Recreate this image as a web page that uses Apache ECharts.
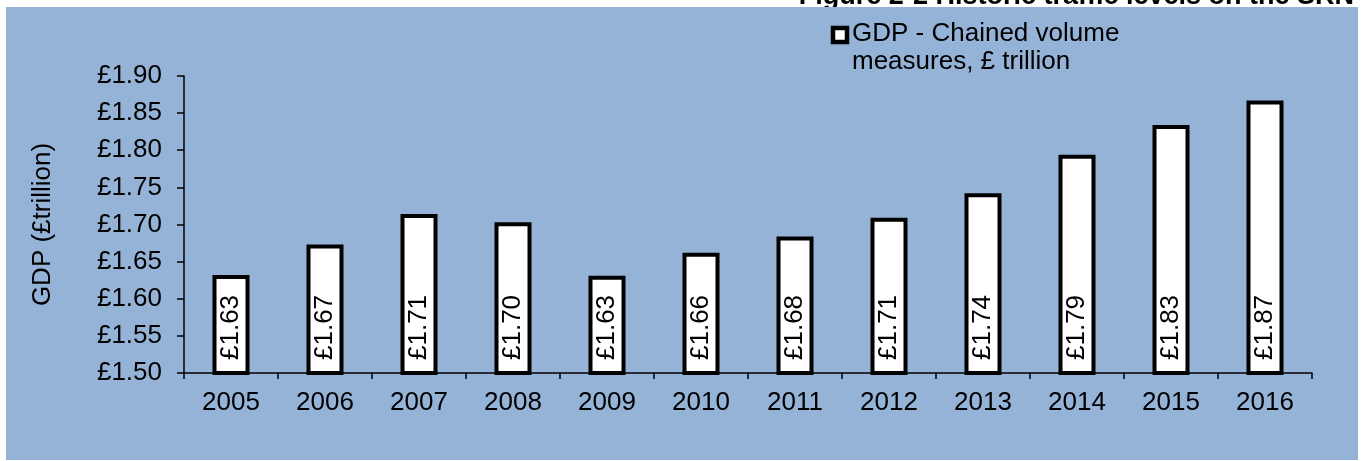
<!DOCTYPE html>
<html>
<head>
<meta charset="utf-8">
<title>GDP chained volume measures</title>
<script src="https://cdn.jsdelivr.net/npm/echarts@6/dist/echarts.min.js"></script>
<style>
  html, body { margin: 0; padding: 0; background: #ffffff; }
  #chart { width: 1363px; height: 461px; }
</style>
</head>
<body>
<div id="chart"></div>
<script>
var years = ['2005', '2006', '2007', '2008', '2009', '2010', '2011', '2012', '2013', '2014', '2015', '2016'];
var gdp = [1.632, 1.673, 1.714, 1.703, 1.631, 1.662, 1.684, 1.709, 1.742, 1.794, 1.834, 1.867];
var seriesName = 'GDP - Chained volume\nmeasures, £ trillion';
var axisName = 'GDP (£trillion)';
var titleText = 'Figure 2-2 Historic traffic levels on the SRN';

var font = 'Liberation Sans, Arial, sans-serif';
var fontSize = 26;

var myChart = echarts.init(document.getElementById('chart'));

var option = {
    animation: false,
    backgroundColor: '#ffffff',
    graphic: [
        {
            // chart title, mostly hidden behind the plot area
            type: 'text',
            z: -20,
            style: {
                x: 1354, y: -3,
                text: titleText,
                align: 'right',
                verticalAlign: 'middle',
                font: 'bold 27px ' + font,
                fill: '#000000'
            }
        },
        {
            type: 'rect',
            z: -10,
            shape: { x: 6, y: 7, width: 1352, height: 453 },
            style: { fill: '#95B3D7' }
        },
        {
            // legend key
            type: 'rect',
            z: 10,
            shape: { x: 833, y: 28, width: 14, height: 14 },
            style: { fill: '#ffffff', stroke: '#000000', lineWidth: 4.5 }
        },
        {
            type: 'text',
            z: 10,
            style: {
                x: 852, y: 20,
                text: seriesName,
                verticalAlign: 'top',
                lineHeight: 28,
                font: fontSize + 'px ' + font,
                fill: '#000000'
            }
        }
    ],
    grid: {
        left: 184,
        right: 51,
        top: 76,
        bottom: 88
    },
    xAxis: {
        type: 'category',
        data: years,
        axisLine: { lineStyle: { color: '#000000', width: 1.5 } },
        axisTick: { show: true, length: 6, lineStyle: { color: '#000000', width: 1.5 } },
        axisLabel: {
            margin: 17,
            color: '#000000',
            fontSize: fontSize,
            fontFamily: font
        }
    },
    yAxis: {
        type: 'value',
        min: 1.5,
        max: 1.9,
        interval: 0.05,
        name: axisName,
        nameLocation: 'middle',
        nameRotate: 90,
        nameGap: 128,
        nameTextStyle: { color: '#000000', fontSize: fontSize, fontFamily: font },
        axisLine: { show: true, lineStyle: { color: '#000000', width: 1.5 } },
        axisTick: { show: true, length: 7, lineStyle: { color: '#000000', width: 1.5 } },
        splitLine: { show: false },
        axisLabel: {
            margin: 22,
            color: '#000000',
            fontSize: fontSize,
            fontFamily: font,
            formatter: function (v) { return '£' + v.toFixed(2); }
        }
    },
    series: [
        {
            type: 'bar',
            name: seriesName,
            data: gdp,
            barWidth: 37,
            itemStyle: {
                color: '#ffffff',
                borderColor: '#000000',
                borderWidth: 4
            },
            label: {
                show: true,
                position: 'insideBottom',
                rotate: 90,
                align: 'left',
                verticalAlign: 'middle',
                distance: 15,
                color: '#000000',
                fontSize: fontSize,
                fontFamily: font,
                formatter: function (p) { return '£' + p.value.toFixed(2); }
            }
        }
    ]
};

myChart.setOption(option);
</script>
</body>
</html>
